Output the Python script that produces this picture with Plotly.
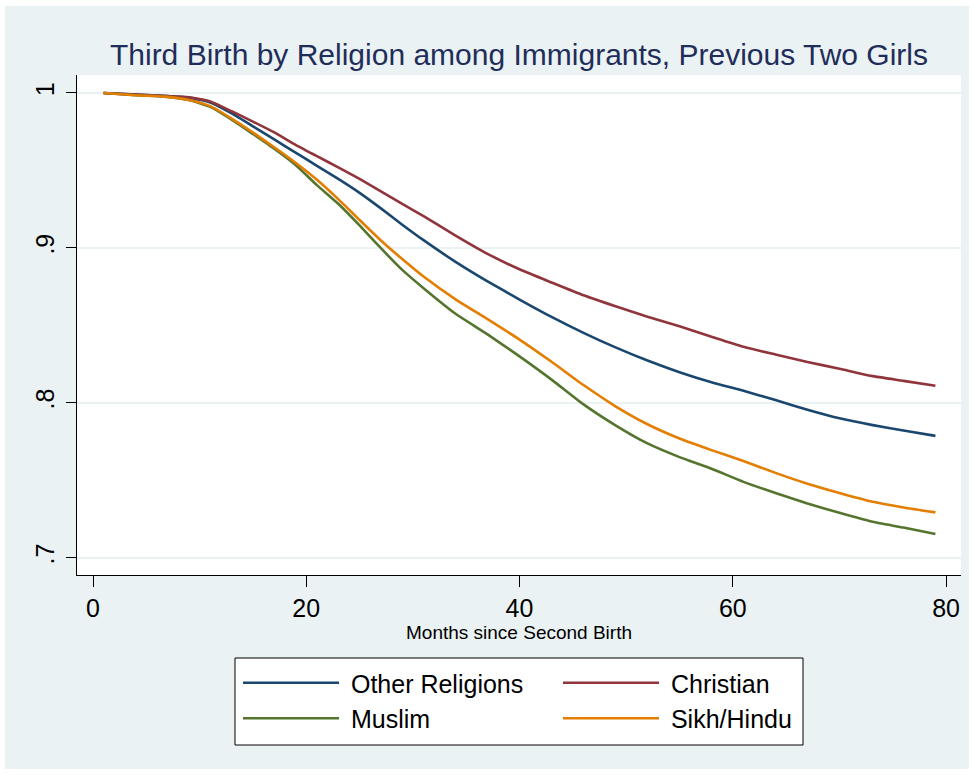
import plotly.graph_objects as go

# Kaplan-Meier style survivor estimates (probability of no third birth)
months = [1, 4, 7, 9, 11, 13, 15, 17, 19, 21, 23, 25, 27, 29, 31, 34, 37, 40,
          43, 46, 49, 52, 55, 58, 61, 64, 67, 70, 73, 76, 79]

other_religions = [1.000, .9990, .9980, .9970, .9938, .9868, .9785, .9700, .9615,
                   .9530, .9445, .9355, .9255, .9150, .9050, .8910, .8784, .8667,
                   .8555, .8452, .8358, .8273, .8198, .8133, .8078, .8018, .7955,
                   .7900, .7858, .7822, .7787]

christian = [1.000, .9990, .9980, .9972, .9945, .9882, .9815, .9745, .9665,
             .9592, .9520, .9445, .9365, .9285, .9205, .9080, .8962, .8862,
             .8777, .8694, .8623, .8556, .8494, .8427, .8362, .8312, .8264,
             .8220, .8174, .8142, .8110]

muslim = [1.000, .9985, .9975, .9955, .9910, .9828, .9735, .9640, .9535,
          .9405, .9285, .9145, .8998, .8858, .8740, .8575, .8442, .8300,
          .8150, .7990, .7855, .7738, .7650, .7575, .7490, .7418, .7350,
          .7290, .7234, .7195, .7153]

sikh_hindu = [1.000, .9985, .9975, .9955, .9915, .9835, .9745, .9650, .9550,
              .9440, .9315, .9180, .9048, .8928, .8815, .8668, .8540, .8408,
              .8265, .8115, .7978, .7862, .7770, .7695, .7625, .7548, .7478,
              .7418, .7363, .7325, .7293]

series_names = ["Other Religions", "Christian", "Muslim", "Sikh/Hindu"]
series_values = [other_religions, christian, muslim, sikh_hindu]
series_colors = ["#1A476F", "#90353B", "#55752F", "#E37E00"]

x_ticks = [0, 20, 40, 60, 80]
y_ticks = [0.7, 0.8, 0.9, 1.0]
y_tick_text = [".7", ".8", ".9", "1"]

BG = "#EAF2F3"
FONT = "Liberation Sans, Arial, sans-serif"

# plot area spans px 77..961 horizontally and 75..575 vertically
L, R, T, B = 77, 961, 75, 575


def px_x(p):
    return (p - L) / (R - L)


def px_y(p):
    return (B - p) / (B - T)


fig = go.Figure()
for name, vals, col in zip(series_names, series_values, series_colors):
    fig.add_trace(go.Scatter(
        x=months, y=vals, name="\u00a0" + name, mode="lines",
        line=dict(color=col, width=2.6, shape="spline", smoothing=0.5),
    ))

fig.update_layout(
    width=974, height=775,
    margin=dict(l=L, r=974 - R, t=T, b=775 - B),
    paper_bgcolor="white",
    plot_bgcolor="white",
    font=dict(family=FONT, color="black", size=25),
    title=dict(
        text="Third Birth by Religion among Immigrants, Previous Two Girls",
        font=dict(family=FONT, size=30, color="#1F2D5A"),
        x=0.5, xref="paper", xanchor="center",
        y=1 - 54 / 775, yref="container", yanchor="middle",
    ),
    showlegend=True,
    legend=dict(
        orientation="h",
        x=px_x(238), xanchor="left",
        y=px_y(660), yanchor="top",
        bgcolor="rgba(0,0,0,0)", borderwidth=0,
        font=dict(family=FONT, size=25, color="black"),
        itemwidth=96,
        entrywidth=209,
        traceorder="normal",
    ),
    shapes=[
        # outer graph region
        dict(type="rect", xref="paper", yref="paper", layer="below",
             x0=px_x(5), x1=px_x(969), y0=px_y(769), y1=px_y(6),
             fillcolor=BG, line=dict(width=0)),
        # plot region
        dict(type="rect", xref="paper", yref="paper", layer="below",
             x0=0, x1=1, y0=0, y1=1,
             fillcolor="white", line=dict(width=0)),
        # legend frame
        dict(type="rect", xref="paper", yref="paper", layer="below",
             x0=px_x(235), x1=px_x(803), y0=px_y(745), y1=px_y(658),
             fillcolor="white", line=dict(color="black", width=1)),
    ],
)

fig.update_xaxes(
    range=[-1.5, 81.4],
    tickvals=x_ticks,
    ticks="outside", ticklen=11, tickcolor="black", tickwidth=1,
    showline=True, linecolor="black", linewidth=1,
    showgrid=False, zeroline=False,
    tickfont=dict(family=FONT, size=25, color="black"),
    title=dict(text="Months since Second Birth",
               font=dict(family=FONT, size=19, color="black"), standoff=4),
)

fig.update_yaxes(
    range=[0.6889, 1.0116],
    tickvals=y_ticks, ticktext=y_tick_text,
    tickangle=-90,
    ticks="outside", ticklen=10, tickcolor="black", tickwidth=1,
    showline=True, linecolor="black", linewidth=1,
    showgrid=True, gridcolor=BG, gridwidth=2,
    zeroline=False,
    ticklabelstandoff=2,
    tickfont=dict(family=FONT, size=25, color="black"),
)

fig.write_html("out.html")
